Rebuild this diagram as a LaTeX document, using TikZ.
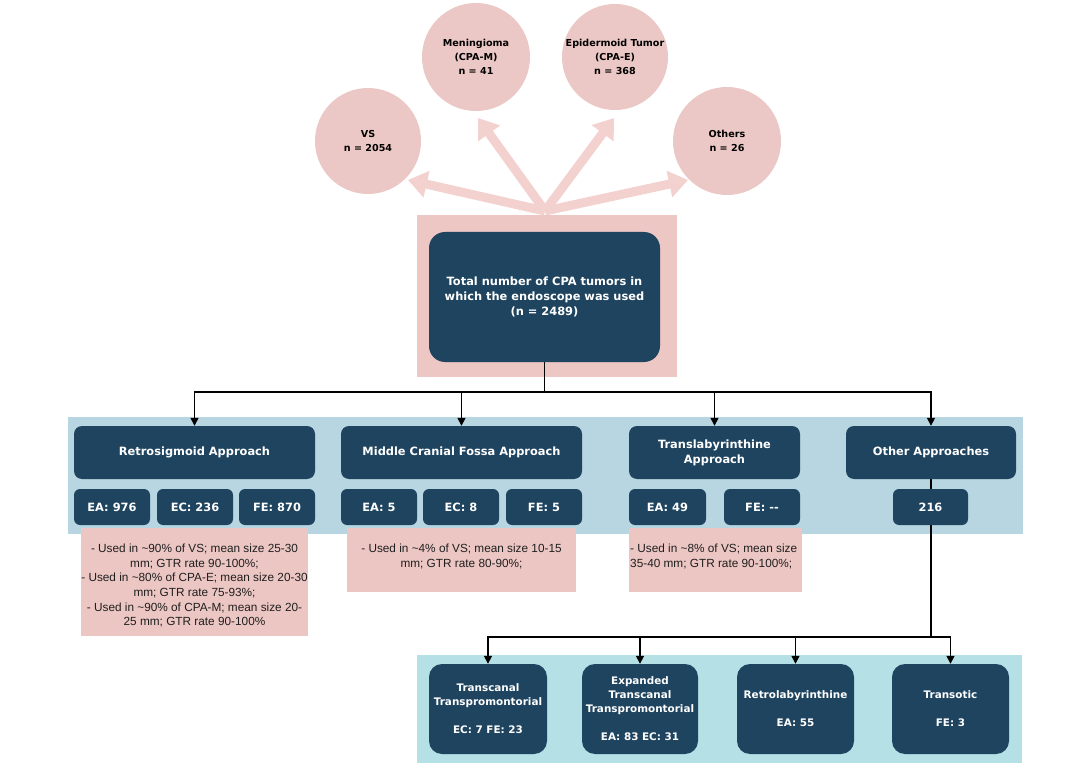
\documentclass[tikz,border=0pt]{standalone}
\usepackage{fontspec}
\setmainfont{DejaVu Sans}
\newfontfamily\notefont{Liberation Sans}
\usetikzlibrary{arrows.meta}
\definecolor{dark}{RGB}{31,68,96}
\definecolor{circpink}{RGB}{235,200,197}
\definecolor{arrowpink}{RGB}{243,209,206}
\definecolor{rectpink}{RGB}{236,199,196}
\definecolor{notepink}{RGB}{236,198,195}
\definecolor{bandblue}{RGB}{183,214,226}
\definecolor{bandcyan}{RGB}{180,224,230}
\pgfdeclarelayer{paper}
\pgfdeclarelayer{bands}
\pgfdeclarelayer{lines}
\pgfsetlayers{paper,bands,lines,main}
\tikzset{
 darkbox/.style={fill=dark, text=white, rounded corners=8pt, inner sep=2pt, align=center,
   font=\fontsize{11.4}{15}\selectfont\bfseries},
 subbox/.style={darkbox, rounded corners=6pt, minimum height=36pt},
 appbox/.style={darkbox, minimum height=53pt},
 botbox/.style={darkbox, rounded corners=13pt, minimum height=90pt,
   font=\fontsize{10.4}{14}\selectfont\bfseries},
 tumor/.style={circle, fill=circpink, inner sep=0pt, align=center, text=black,
   font=\fontsize{9.6}{14}\selectfont\bfseries},
 notebox/.style={fill=notepink, inner sep=0pt},
 notetext/.style={anchor=north, inner sep=0pt, text=black!88,
   font=\notefont\fontsize{11.8}{14.6}\selectfont},
 fat/.style={draw=arrowpink, line width=9pt, -{Triangle[length=19pt,width=26pt]}},
 conn/.style={draw=black, line width=1.5pt},
 connarrow/.style={conn, -{Triangle[length=8pt,width=8pt]}},
 band/.style={inner sep=0pt}
}
\begin{document}
\begin{tikzpicture}[x=1pt,y=-1pt]
\begin{pgfonlayer}{paper}
\fill[white] (0,0) rectangle (1080,778);
\end{pgfonlayer}
\useasboundingbox (0,0) rectangle (1080,778);

% tumour circles
\node[tumor, minimum size=106pt] (vs)  at (368,141) {VS\\n = 2054};
\node[tumor, minimum size=108pt] (men) at (476,57) {Meningioma\\(CPA-M)\\n = 41};
\node[tumor, minimum size=106pt] (epi) at (615,57) {Epidermoid Tumor\\(CPA-E)\\n = 368};
\node[tumor, minimum size=108pt] (oth) at (727,141) {Others\\n = 26};
\coordinate (tipvs) at (408,180);
\coordinate (tipmen) at (478,118);
\coordinate (tipepi) at (614,118);
\coordinate (tipoth) at (688,180);

% main box
\begin{pgfonlayer}{bands}
\node[fill=rectpink, band, minimum width=260pt, minimum height=162pt] (mainbg) at (547,296) {};
\node[fill=bandblue, band, minimum width=955pt, minimum height=117pt] (band1) at (545.5,475.5) {};
\node[fill=bandcyan, band, minimum width=605pt, minimum height=108pt] (band2) at (719.5,709) {};
\end{pgfonlayer}
\node[darkbox, rounded corners=16pt, minimum width=231pt, minimum height=130pt] (main) at (544.5,297)
  {Total number of CPA tumors in\\which the endoscope was used\\(n = 2489)};
\coordinate (src) at (545,211);

% approaches
\node[appbox, minimum width=241pt] (retro) at (194.5,452.5) {Retrosigmoid Approach};
\node[subbox, minimum width=76pt] (rEA) at (112,507) {EA: 976};
\node[subbox, minimum width=76pt] (rEC) at (195,507) {EC: 236};
\node[subbox, minimum width=76pt] (rFE) at (277,507) {FE: 870};

\node[appbox, minimum width=241pt] (mcf) at (461.5,452.5) {Middle Cranial Fossa Approach};
\node[subbox, minimum width=76pt] (mEA) at (379,507) {EA: 5};
\node[subbox, minimum width=76pt] (mEC) at (461,507) {EC: 8};
\node[subbox, minimum width=76pt] (mFE) at (544,507) {FE: 5};

\node[appbox, minimum width=171pt] (tl) at (714.5,452.5) {Translabyrinthine\\Approach};
\node[subbox, minimum width=77pt] (tEA) at (667.5,507) {EA: 49};
\node[subbox, minimum width=76pt] (tFE) at (762,507) {FE: -{}-};

\node[appbox, minimum width=170pt] (oa) at (931,452.5) {Other Approaches};
\node[subbox, minimum width=75pt] (n216) at (930.5,507) {216};

% notes
\node[notebox, minimum width=227pt, minimum height=108pt] (note1) at (194.5,582) {};
\node[notetext, align=center] (note1t) at (194.5,544) {- Used in \textasciitilde 90\% of VS; mean size 25-30\\mm; GTR rate 90-100\%;\\- Used in \textasciitilde 80\% of CPA-E; mean size 20-30\\mm; GTR rate 75-93\%;\\- Used in \textasciitilde 90\% of CPA-M; mean size 20-\\25 mm; GTR rate 90-100\%};
\node[notebox, minimum width=229pt, minimum height=64pt] (note2) at (461.5,560) {};
\node[notetext, align=center] (note2t) at (461.5,544) {- Used in \textasciitilde 4\% of VS; mean size 10-15\\mm; GTR rate 80-90\%;};
\node[notebox, minimum width=173pt, minimum height=64pt] (note3) at (715.5,560) {};
\node[notetext, align=left, anchor=north west] (note3t) at (630,544) {- Used in \textasciitilde 8\% of VS; mean size\\35-40 mm; GTR rate 90-100\%;};

% other approaches detail
\node[botbox, minimum width=118pt] (tc) at (488,709) {Transcanal\\Transpromontorial\\[14pt]EC: 7 FE: 23};
\node[botbox, minimum width=116pt] (etc) at (640,709) {Expanded\\Transcanal\\Transpromontorial\\[14pt]EA: 83 EC: 31};
\node[botbox, minimum width=117pt] (rl) at (795.5,709) {Retrolabyrinthine\\[14pt]EA: 55};
\node[botbox, minimum width=117pt] (tro) at (950.5,709) {Transotic\\[14pt]FE: 3};

\coordinate (split) at (544.5,392);
\coordinate (split2) at (931,637);

\begin{pgfonlayer}{lines}
\draw[fat] (src) -- (tipvs);
\draw[fat] (src) -- (tipmen);
\draw[fat] (src) -- (tipepi);
\draw[fat] (src) -- (tipoth);
\draw[conn] (main.south) -- (split);
\draw[connarrow] (split) -| (retro.north);
\draw[connarrow] (split) -| (mcf.north);
\draw[connarrow] (split) -| (tl.north);
\draw[connarrow] (split) -| (oa.north);
\draw[conn] (oa.south) -- (split2);
\draw[connarrow] (split2) -| (tc.north);
\draw[connarrow] (split2) -| (etc.north);
\draw[connarrow] (split2) -| (rl.north);
\draw[connarrow] (split2) -| (tro.north);
\end{pgfonlayer}
\end{tikzpicture}
\end{document}
